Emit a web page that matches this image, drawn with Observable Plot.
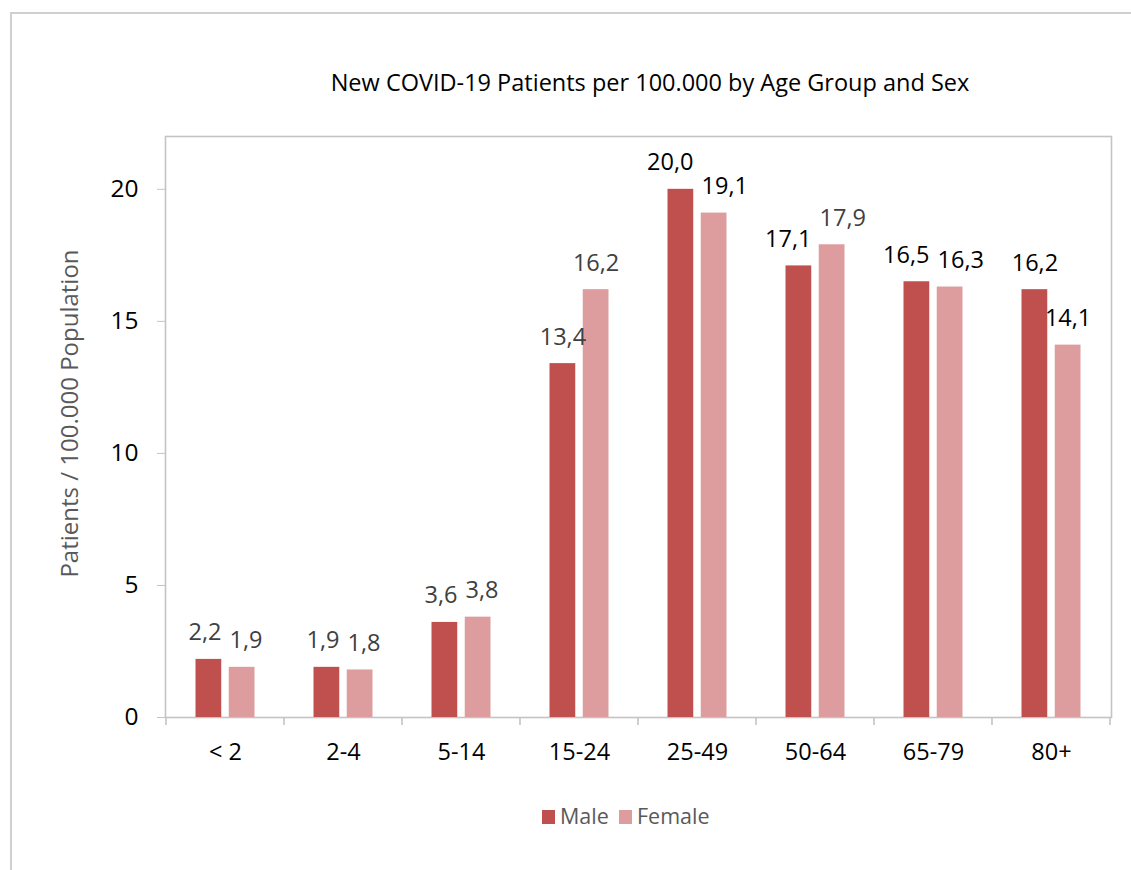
<!DOCTYPE html>
<html>
<head>
<meta charset="utf-8">
<script src="https://cdn.jsdelivr.net/npm/d3@7"></script>
<script src="https://cdn.jsdelivr.net/npm/@observablehq/plot@0.6"></script>
<style>
  body { margin: 0; background: #fff; font-family: "Open Sans", sans-serif; }
  #wrap { position: relative; width: 1131px; height: 870px; overflow: hidden; background: #fff; }
  #chart { position: absolute; left: 0; top: 0; }
  #border { position: absolute; left: 10px; top: 12px; width: 1300px; height: 1000px;
            border-top: 2px solid #d0d0d0; border-left: 2px solid #d0d0d0; box-sizing: border-box; }
  #title { position: absolute; top: 71px; left: 650px; transform: translateX(-50%);
           white-space: nowrap; font-size: 23.5px; line-height: 1; color: #000; }
  .sw { position: absolute; width: 13px; height: 14px; top: 810px; }
  .lt { position: absolute; top: 805px; font-size: 21.5px; line-height: 1; color: #595959; white-space: nowrap; }
</style>
</head>
<body>
<div id="wrap">
  <div id="border"></div>
  <div id="chart"></div>
  <div id="title"></div>
  <div id="legend"></div>
</div>
<script>
// ---- data ----
const categories = ["< 2", "2-4", "5-14", "15-24", "25-49", "50-64", "65-79", "80+"];
const male   = [2.2, 1.9, 3.6, 13.4, 20.0, 17.1, 16.5, 16.2];
const female = [1.9, 1.8, 3.8, 16.2, 19.1, 17.9, 16.3, 14.1];
const series = ["Male", "Female"];
const yTicks = [0, 5, 10, 15, 20];
const titleText = "New COVID-19 Patients per 100.000 by Age Group and Sex";
const yTitle = "Patients / 100.000 Population";
// labels drawn in black (the rest in dark grey), as in the reference
const blackMaleLabels = ["25-49", "50-64", "65-79", "80+"];
const blackFemaleLabels = ["25-49", "65-79", "80+"];

// ---- styles ----
const colors = {Male: "#c0504d", Female: "#dd9c9d"};
const fmt = v => d3.format(".1f")(v).replace(".", ",");
const labelSize = 23.5;

const maleRows = categories.map((c, i) => ({cat: c, value: male[i], sex: "Male",
  tone: blackMaleLabels.includes(c) ? "#000" : "#404040"}));
const femaleRows = categories.map((c, i) => ({cat: c, value: female[i], sex: "Female",
  tone: blackFemaleLabels.includes(c) ? "#000" : "#404040"}));

const W = 1131, H = 870;
const plot = Plot.plot({
  width: W, height: H,
  marginLeft: 165, marginRight: 20, marginTop: 136, marginBottom: 153,
  style: {fontFamily: "Open Sans, sans-serif", background: "transparent", overflow: "visible"},
  x: {type: "band", domain: categories, padding: 0},
  y: {domain: [0, 22]},
  marks: [
    Plot.frame({stroke: "#c4c4c4", strokeWidth: 1.6}),
    Plot.barY(maleRows, {x: "cat", y: "value", fill: colors.Male, insetLeft: 29.5, insetRight: 62.75}),
    Plot.barY(femaleRows, {x: "cat", y: "value", fill: colors.Female, insetLeft: 62.75, insetRight: 29.5}),
    Plot.text(maleRows, {x: "cat", y: "value", text: d => fmt(d.value), fill: "tone",
      lineAnchor: "bottom", dx: -16.6, dy: -19, fontSize: labelSize}),
    Plot.text(femaleRows, {x: "cat", y: "value", text: d => fmt(d.value), fill: "tone",
      lineAnchor: "bottom", dx: 16.6, dy: -19, fontSize: labelSize}),
    Plot.axisY({ticks: yTicks, tickSize: 8, tickPadding: 19, stroke: "#c4c4c4", fill: "#000",
      fontSize: 24.5, label: null, tickFormat: d3.format("d")}),
    Plot.axisX({tickSize: 0, tickPadding: 26, fill: "#000", fontSize: 23.5, label: null})
  ]
});
document.getElementById("chart").appendChild(plot);

// boundary ticks on the category axis, from the library's x scale
const xs = plot.scale("x");
const ys = plot.scale("y");
const y0 = ys.apply(0);
const svg = d3.select(plot);
const bounds = categories.map(c => xs.apply(c)).concat([xs.apply(categories[categories.length - 1]) + xs.bandwidth]);
svg.append("g").selectAll("line").data(bounds).join("line")
  .attr("x1", d => d).attr("x2", d => d)
  .attr("y1", y0).attr("y2", y0 + 8)
  .attr("stroke", "#c4c4c4").attr("stroke-width", 1.6);

// push apart neighbouring value labels that would collide
const textGroups = svg.selectAll("g[aria-label='text']").nodes();
if (textGroups.length >= 2) {
  const mNodes = Array.from(textGroups[0].querySelectorAll("text"));
  const fNodes = Array.from(textGroups[1].querySelectorAll("text"));
  const gap = 8;
  mNodes.forEach((m, i) => {
    const f = fNodes[i]; if (!f) return;
    const a = m.getBoundingClientRect(), b = f.getBoundingClientRect();
    const vOverlap = a.top + 2 < b.bottom - 2 && b.top + 2 < a.bottom - 2;
    const need = a.right + gap - b.left;
    if (vOverlap && need > 0) {
      const s = need / 2;
      m.setAttribute("x", (+m.getAttribute("x") || 0) - s);
      f.setAttribute("x", (+f.getAttribute("x") || 0) + s);
    }
  });
}

// y axis title
svg.append("text")
  .attr("transform", `translate(68,${(ys.apply(yTicks[0]) + ys.apply(22)) / 2 - 13}) rotate(-90)`)
  .attr("text-anchor", "middle").attr("dominant-baseline", "central")
  .attr("fill", "#595959").attr("font-size", 24).attr("font-family", "Open Sans, sans-serif")
  .text(yTitle);

document.getElementById("title").textContent = titleText;

// legend
const legend = document.getElementById("legend");
const legendPos = {Male: [542, 560], Female: [619, 637]};
series.forEach(s => {
  const sw = document.createElement("div");
  sw.className = "sw"; sw.style.left = legendPos[s][0] + "px"; sw.style.background = colors[s];
  const t = document.createElement("div");
  t.className = "lt"; t.style.left = legendPos[s][1] + "px"; t.textContent = s;
  legend.appendChild(sw); legend.appendChild(t);
});
</script>
</body>
</html>
